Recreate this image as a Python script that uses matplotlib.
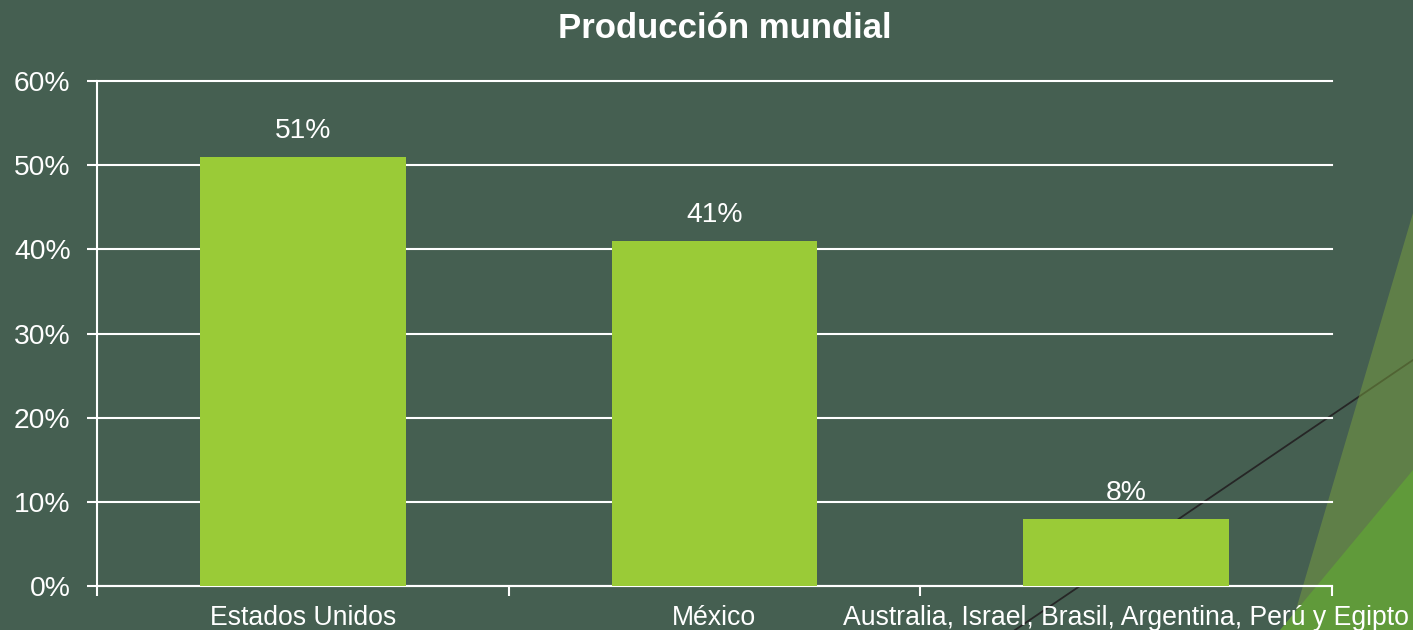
import matplotlib.pyplot as plt
from matplotlib.patches import Polygon
from matplotlib.lines import Line2D
from matplotlib.ticker import FixedLocator, PercentFormatter

### Data: share of world production by country group
paises = ['Estados Unidos', 'México', 'Australia, Israel, Brasil, Argentina, Perú y Egipto']
produccion = [0.51, 0.41, 0.08]
y_ticks = [0, 0.1, 0.2, 0.3, 0.4, 0.5, 0.6]

fondo = '#455F51'
verde_barra = '#9ACB37'

plt.rcParams['font.family'] = ['Liberation Sans', 'DejaVu Sans']

fig = plt.figure(figsize=(14.13, 6.3), dpi=100, facecolor=fondo)

### Slide decoration on the right edge (drawn behind the chart)
W, H = 1413.0, 630.0
def fc(x, y):
    return (x / W, 1 - y / H)

linea = Line2D([1413 / W, 1015 / W], [1 - 360 / H, 1 - 630 / H], transform=fig.transFigure,
               color='#262626', linewidth=1.3, zorder=-3)
fig.add_artist(linea)
claro = Polygon([fc(1413, 213), fc(1413, 630), fc(1290, 630)], closed=True,
                transform=fig.transFigure, facecolor='#7AA040', alpha=0.5,
                edgecolor='none', zorder=-2)
fig.add_artist(claro)
oscuro = Polygon([fc(1413, 470), fc(1413, 630), fc(1280, 630)], closed=True,
                 transform=fig.transFigure, facecolor='#609A3A',
                 edgecolor='none', zorder=-1)
fig.add_artist(oscuro)

### Bar chart
ax = fig.add_axes([97 / W, 44 / H, 1235 / W, 505 / H])
ax.set_facecolor('none')
ax.set_zorder(1)

x = list(range(len(paises)))
ax.bar(x, produccion, width=0.5, color=verde_barra, zorder=3)

for xi, v in zip(x, produccion):
    ax.annotate(f'{v * 100:.0f}%', (xi, v), xytext=(0, 9), textcoords='offset points',
                ha='center', va='bottom', color='white', fontsize=20.3, zorder=4)

ax.set_xlim(-0.5, len(paises) - 0.5)
ax.set_ylim(0, 0.6)
ax.set_yticks(y_ticks)
ax.yaxis.set_major_formatter(PercentFormatter(1.0, decimals=0))
ax.grid(axis='y', color='white', linewidth=1.5, zorder=1)
ax.set_axisbelow(True)
for g in ax.yaxis.get_gridlines():
    g.set_clip_on(False)

# category boundaries get the tick marks, centers get the labels
ax.xaxis.set_major_locator(FixedLocator([-0.5, 0.5, 1.5, 2.5]))
ax.xaxis.set_minor_locator(FixedLocator(x))
ax.set_xticklabels([])
ax.set_xticklabels(paises, minor=True)
ax.tick_params(axis='x', which='major', direction='out', length=7, width=1.5, color='white')
ax.tick_params(axis='x', which='minor', length=0, pad=14, labelsize=19.2, labelcolor='white')
ax.tick_params(axis='y', direction='out', length=7, width=1.5, color='white',
               labelsize=20.3, labelcolor='white', pad=12)
for lbl in ax.get_xticklabels(minor=True):
    lbl.set_clip_on(False)

for s in ['top', 'right']:
    ax.spines[s].set_visible(False)
for s in ['left', 'bottom']:
    ax.spines[s].set_color('white')
    ax.spines[s].set_linewidth(1.5)
    ax.spines[s].set_zorder(2)

fig.text(725 / W, 1 - 28 / H, 'Producción mundial', ha='center', va='center',
         color='white', fontsize=25, fontweight='bold')

fig.savefig('out.png', dpi=100, facecolor=fondo)
